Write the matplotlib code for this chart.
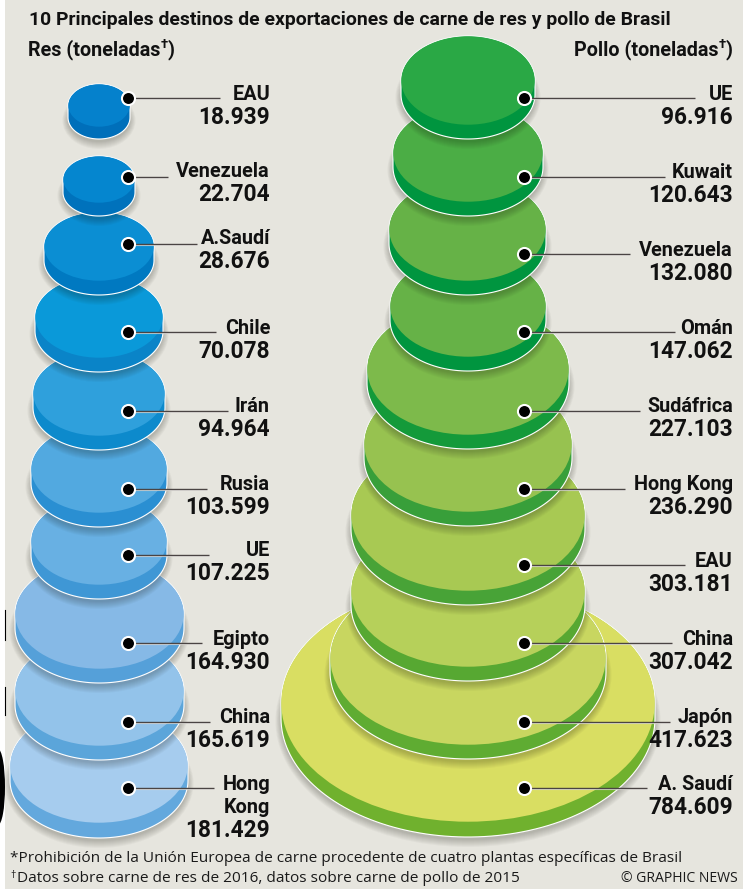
import numpy as np
import matplotlib
matplotlib.use("Agg")
import matplotlib.pyplot as plt
from matplotlib.patches import Ellipse, Polygon, Rectangle

TITLE = "10 Principales destinos de exportaciones de carne de res y pollo de Brasil"
NOTE1 = "*Prohibición de la Unión Europea de carne procedente de cuatro plantas específicas de Brasil"
NOTE2 = "Datos sobre carne de res de 2016, datos sobre carne de pollo de 2015"
CREDIT = "© GRAPHIC NEWS"

beef_names = ["EAU", "Venezuela", "A.Saudí", "Chile", "Irán", "Rusia", "UE", "Egipto", "China", "Hong\nKong"]
beef_values = [18939, 22704, 28676, 70078, 94964, 103599, 107225, 164930, 165619, 181429]
chicken_names = ["UE", "Kuwait", "Venezuela", "Omán", "Sudáfrica", "Hong Kong", "EAU", "China", "Japón", "A. Saudí"]
chicken_values = [96916, 120643, 132080, 147062, 227103, 236290, 303181, 307042, 417623, 784609]

# disc outlines (left, right, top, bottom, rim)
beef_left = [68, 63, 44, 35, 33, 31, 31, 15, 15, 10]
beef_right = [130, 135, 154, 163, 165, 167, 167, 184, 184, 188]
beef_top = [84, 156, 212, 276, 351, 425, 497, 559, 636, 708]
beef_bottom = [139, 216, 295, 372, 450, 527, 599, 683, 760, 838]
beef_rim = [12, 13, 14, 14, 14, 14, 14, 14, 14, 15]
chicken_left = [401, 393, 389, 390, 367, 364, 351, 351, 330, 281]
chicken_right = [535, 543, 546, 546, 569, 572, 585, 585, 606, 655]
chicken_top = [36, 104, 178, 255, 303, 376, 439, 515, 571, 584]
chicken_bottom = [139, 216, 295, 371, 449, 526, 605, 681, 759, 837]
chicken_rim = [14, 14, 14, 14, 14, 14, 14, 14, 14, 15]

beef_top_col = ["#0581cc", "#0586cf", "#0b8ed3", "#0a99d9", "#2fa0dc", "#52a9e0", "#68b0e3", "#86b9e6", "#93c3ea", "#a6ccee"]
beef_side_col = ["#006fba", "#0072bc", "#0079c1", "#0a84c8", "#0d8acc", "#2a8fd2", "#3f97d5", "#55a0d9", "#5ba5da", "#63a8dd"]
chicken_top_col = ["#2aa845", "#4bad45", "#66b247", "#66b247", "#7dba4b", "#97c250", "#a8c953", "#b6d05a", "#c8d660", "#d9de62"]
chicken_side_col = ["#00953f", "#00953f", "#00953f", "#00953f", "#149a3a", "#389f3a", "#48a337", "#57a832", "#5fac32", "#70b12e"]

beef_dot_y = [98, 177, 244, 332, 411, 489, 555, 643, 722, 788]
chicken_dot_y = [98, 177, 254, 332, 411, 489, 565, 643, 722, 788]
beef_line_end = [220, 168, 197, 216, 228, 207, 209, 202, 210, 214]
chicken_line_end = [695, 665, 630, 675, 640, 625, 685, 672, 670, 647]
beef_label_y = [93, 170, 237, 327, 405, 483, 549, 638, 716, 783]
chicken_label_y = [93, 171, 249, 327, 405, 483, 560, 638, 716, 783]

BG = "#e6e5de"
INK = "#111111"
HEAD = ["Roboto", "DejaVu Sans"]
BODY = ["Open Sans", "DejaVu Sans"]

fig = plt.figure(figsize=(7.43, 8.89), dpi=100, facecolor="white")
ax = fig.add_axes([0, 0, 1, 1])
ax.set_xlim(0, 743)
ax.set_ylim(889, 0)
ax.axis("off")
ax.add_patch(Rectangle((5, 0), 738, 889, fc=BG, ec="none", zorder=0))
# stray dark scan marks on the left margin of the source picture
for y0, y1 in [(610, 640), (687, 715)]:
    ax.plot([4.5, 4.5], [y0, y1], color="black", lw=0.8, zorder=1)
ax.add_patch(Ellipse((-2, 787), 14, 76, fc="black", ec="none", zorder=1))

R = fig.canvas.get_renderer()


def fit_text(x, y, s, width, size, ha="left", **kw):
    t = ax.text(x, y, s, fontsize=size, ha=ha, va="center", **kw)
    w = t.get_window_extent(R).width
    t.set_fontsize(size * width / w)
    return t


def disc(l, r, top, bottom, rim, top_col, side_col, z):
    cx, w = (l + r) / 2, r - l
    h = bottom - rim - top
    yc = top + h / 2
    for i in range(8):
        ax.add_patch(Ellipse((cx, yc + rim + 3), w + 1.6 * i, h + 2 * i, fc="#1a1a10", ec="none",
                             alpha=0.03, zorder=z))
    th = np.linspace(np.pi, 2 * np.pi, 90)
    upper = np.c_[cx + w / 2 * np.cos(th), yc + h / 2 * np.sin(th)]
    th2 = np.linspace(0, np.pi, 90)
    lower = np.c_[cx + w / 2 * np.cos(th2), yc + rim + h / 2 * np.sin(th2)]
    ax.add_patch(Polygon(np.r_[upper, lower], closed=True, fc=side_col, ec="white", lw=0.8, zorder=z))
    ax.add_patch(Ellipse((cx, yc), w - 0.6, h - 0.6, fc=top_col, ec="none", zorder=z))


def column(lefts, rights, tops, bottoms, rims, top_cols, side_cols, dot_x, dot_ys, ends):
    n = len(lefts)
    for i in range(n - 1, -1, -1):
        disc(lefts[i], rights[i], tops[i], bottoms[i], rims[i], top_cols[i], side_cols[i], 10 + (n - i) * 2)
    for i in range(n):
        ax.plot([dot_x, ends[i]], [dot_ys[i] + 0.9] * 2, color="#f2f0ec", lw=0.8, alpha=0.8, zorder=49, solid_capstyle="butt")
        ax.plot([dot_x, ends[i]], [dot_ys[i], dot_ys[i]], color="#4a4443", lw=1.0, zorder=50, solid_capstyle="butt")
        ax.plot([dot_x], [dot_ys[i]], "o", ms=9.4, mfc="black", mec="white", mew=1.5, zorder=51)


column(beef_left, beef_right, beef_top, beef_bottom, beef_rim, beef_top_col, beef_side_col, 127.5, beef_dot_y, beef_line_end)
column(chicken_left, chicken_right, chicken_top, chicken_bottom, chicken_rim, chicken_top_col, chicken_side_col, 524, chicken_dot_y, chicken_line_end)


def fmt(v):
    return f"{v:,}".replace(",", ".")


LSTEP = 23
DY = 1.5
for names, vals, ys, x in [(beef_names, beef_values, beef_label_y, 270),
                           (chicken_names, chicken_values, chicken_label_y, 733)]:
    for name, val, y in zip(names, vals, ys):
        yy = y + DY
        for part in name.split("\n"):
            ax.text(x, yy, part, fontsize=14.3, fontweight="bold", family=HEAD, ha="right", va="center", zorder=60, color=INK)
            yy += LSTEP
        ax.text(x, yy, fmt(val), fontsize=16.3, fontweight="bold", family=HEAD, ha="right", va="center", zorder=60, color=INK)

fit_text(29, 20, TITLE, 644, 14, fontweight="bold", family=HEAD, color=INK, zorder=60)


def subtitle(x, y, a, ha="left"):
    t1 = ax.text(x, y, a, fontsize=14.2, fontweight="bold", family=HEAD, va="center", color=INK, zorder=60)
    w1 = t1.get_window_extent(R).width
    t2 = ax.text(x + w1, y - 5, "†", fontsize=9.5, fontweight="bold", family=HEAD, va="center", color=INK, zorder=60)
    w2 = t2.get_window_extent(R).width
    t3 = ax.text(x + w1 + w2, y, ")", fontsize=14.2, fontweight="bold", family=HEAD, va="center", color=INK, zorder=60)
    w3 = t3.get_window_extent(R).width
    if ha == "right":
        off = w1 + w2 + w3
        for t, dx in [(t1, 0), (t2, w1), (t3, w1 + w2)]:
            t.set_position((x - off + dx, t.get_position()[1]))


subtitle(28, 50, "Res (toneladas")
subtitle(733, 50, "Pollo (toneladas", ha="right")

fit_text(10, 859, NOTE1, 672, 10.5, family=BODY, color="#1a1a1a", zorder=60)
ax.text(10, 875, "†", fontsize=7.5, family=BODY, va="center", color="#1a1a1a", zorder=60)
fit_text(17, 878.5, NOTE2, 503, 10.5, family=BODY, color="#1a1a1a", zorder=60)
fit_text(738, 878, CREDIT, 117, 9.5, ha="right", family=BODY, color="#1a1a1a", zorder=60)

fig.savefig("out.png", dpi=100, facecolor="white")
